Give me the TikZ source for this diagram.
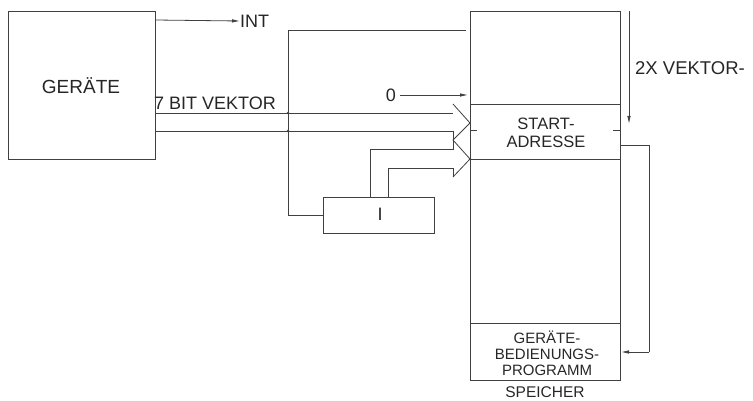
\documentclass[tikz,border=0pt]{standalone}
\usepackage{fontspec}
\setmainfont{Liberation Sans}
\usetikzlibrary{arrows.meta}
\begin{document}
\begin{tikzpicture}[x=1pt,y=-1pt,
  ln/.style={draw=black!75,line width=0.8pt},
  arr/.style={ln,-{Latex[length=8pt,width=3.5pt]}},
  lbl/.style={inner sep=0pt,text=black!85},
  big/.style={lbl,font=\fontsize{18}{20}\selectfont},
  mid/.style={lbl,font=\fontsize{16.5}{16}\selectfont,align=center}]
\useasboundingbox (0,0) rectangle (753,401);
% boxes
\node[ln,minimum width=147pt,minimum height=148pt,anchor=north west,inner sep=0pt] (ger) at (8,11) {};
\node[big,font=\fontsize{19}{20}\selectfont] (gert) at (81,86) {GERÄTE};
\node[ln,minimum width=150pt,minimum height=369pt,anchor=north west,inner sep=0pt] (mem) at (470,11) {};
\node[ln,minimum width=111pt,minimum height=36pt,anchor=north west,inner sep=0pt] (ibox) at (323,197) {};
\node[big] (it) at (380,214) {I};
% memory dividers
\coordinate (d1l) at (470,104); \coordinate (d1r) at (620,104);
\coordinate (d2l) at (470,159); \coordinate (d2r) at (620,159);
\coordinate (d3l) at (470,323); \coordinate (d3r) at (620,323);
\draw[ln] (d1l) -- (d1r);
\draw[ln] (d2l) -- (d2r);
\draw[ln] (d3l) -- (d3r);
\draw[ln] (470,130) -- (477,130);
\draw[ln] (613,130) -- (620,130);
\node[mid] (sa) at (546,133) {START-\\[2pt]ADRESSE};
\node[mid,font=\fontsize{15}{16}\selectfont] (gbp) at (547,353) {GERÄTE-\\BEDIENUNGS-\\PROGRAMM};
\node[mid,anchor=base,font=\fontsize{15.5}{16}\selectfont] (sp) at (545,397) {SPEICHER};
% INT
\coordinate (intS) at (155,20);
\node[big,anchor=west] (int) at (240,21) {INT};
\draw[arr] (intS) -- (int.west);
% top loop to I box
\coordinate (tl) at (466,30);
\draw[ln] (tl) -- (288,30) |- (ibox.west);
% 7 BIT VEKTOR lines
\coordinate (v1s) at (155,113); \coordinate (v1e) at (453,113);
\coordinate (v2s) at (155,131); \coordinate (v2e) at (453,131);
\node[big,anchor=base west] (vk) at (154,110) {7 BIT VEKTOR};
\draw[ln] (v1s) -- (v1e);
\draw[ln] (v2s) -- (v2e) -- (453,149) -- (370,149) -- (370,197);
\draw[ln] (388,197) -- (388,168) -- (453,168) -- (453,177);
\fill[black!75] (288,113) circle (1.3pt) (288,131) circle (1.3pt);
% chevrons
\coordinate (c1) at (470,123); \coordinate (c2) at (470,159);
\draw[ln] (453,104) -- (c1) -- (453,140) -- (c2) -- (453,177);
\fill[black!75] (c1) circle (1.2pt) (c2) circle (1.3pt);
% 0 input
\node[big,anchor=east] (zero) at (396,95) {0};
\draw[arr] (zero.east) ++(4,0) -- (468,95);
% 2X VEKTOR
\coordinate (vt) at (629,11); \coordinate (vb) at (629,124);
\draw[arr] (vt) -- (vb);
\node[big,anchor=west,font=\fontsize{18.5}{20}\selectfont] (vk2) at (635,68) {2X VEKTOR-};
% return path
\draw[ln] (620,145) -- (649,145) -- (649,352);
\draw[arr] (649,352) -- (621,352);
\end{tikzpicture}
\end{document}
